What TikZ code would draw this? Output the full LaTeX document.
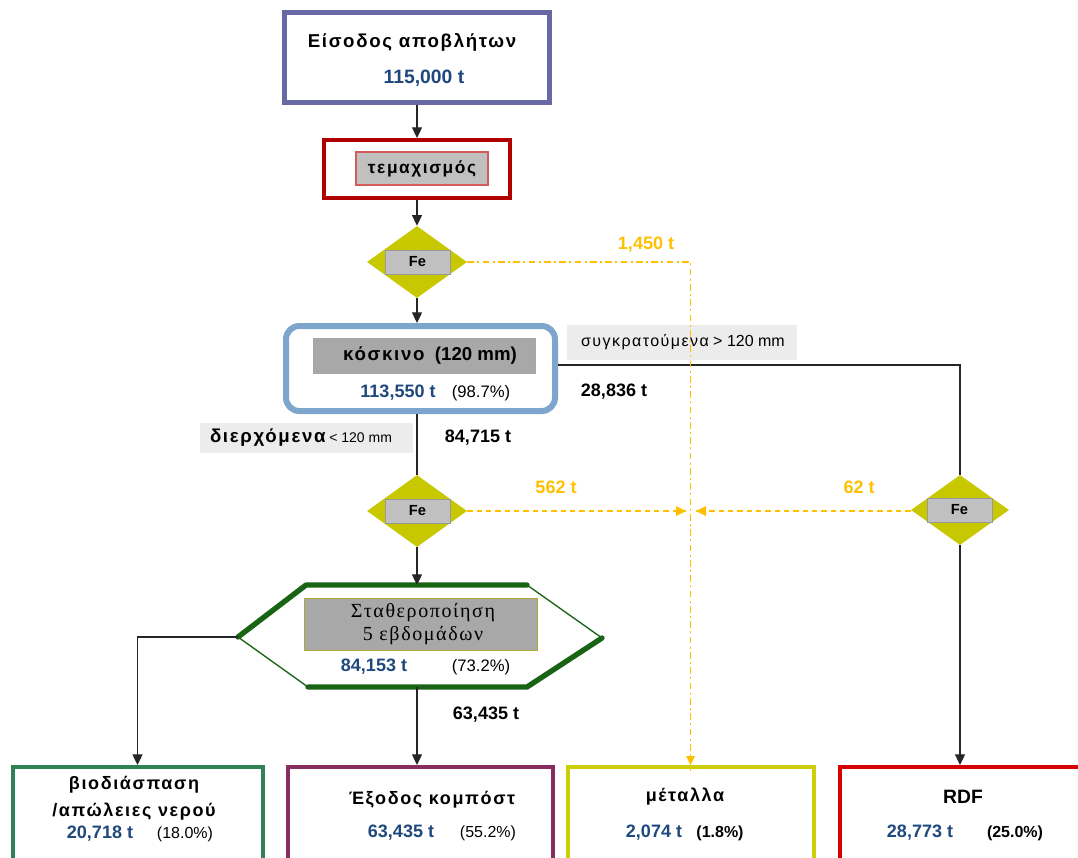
\documentclass[tikz,border=0pt]{standalone}
\usepackage{fontspec}
\setmainfont{Liberation Sans}
\newfontfamily\grsp[LetterSpace=9]{Liberation Sans}
\newfontfamily\grserif[LetterSpace=8]{Liberation Serif}
\usetikzlibrary{shapes.geometric,arrows.meta}
\definecolor{topblue}{RGB}{104,104,164}
\definecolor{darkred}{RGB}{176,0,0}
\definecolor{pinkred}{RGB}{215,90,90}
\definecolor{sieveblue}{RGB}{125,165,205}
\definecolor{olive}{RGB}{200,200,0}
\definecolor{btngray}{RGB}{192,192,192}
\definecolor{darkgray}{RGB}{168,168,168}
\definecolor{lblgray}{RGB}{236,236,236}
\definecolor{feyellow}{RGB}{255,192,0}
\definecolor{valblue}{RGB}{31,73,125}
\definecolor{hexgreen}{RGB}{25,100,20}
\definecolor{biogreen}{RGB}{46,130,85}
\definecolor{maroon}{RGB}{135,45,95}
\definecolor{metyellow}{RGB}{205,205,10}
\definecolor{rdfred}{RGB}{215,0,0}
\tikzset{
  x=0.75pt, y=-0.75pt,
  box/.style={draw, line width=3pt, minimum width={#1}, inner sep=0pt},
  flow/.style={draw=black!85, line width=0.9pt},
  arr/.style={flow, -{Triangle[length=8pt,width=7.5pt]}},
  fedash/.style={draw=feyellow, line width=1.3pt, dash pattern=on 4pt off 3pt},
  fedashdot/.style={draw=feyellow, line width=1.3pt, dash pattern=on 5pt off 2.5pt on 1.5pt off 2.5pt},
  dmd/.style={diamond, fill=olive, minimum width=75pt, minimum height=54pt, inner sep=0pt},
  febox/.style={fill=btngray, draw=gray!80, line width=0.6pt, minimum width=48.75pt, minimum height=18pt, inner sep=0pt, font=\fontsize{11}{13}\selectfont\bfseries},
  val/.style={text=valblue, font=\fontsize{13.5}{16}\selectfont\bfseries, inner sep=0pt},
  pct/.style={font=\fontsize{12}{14}\selectfont, inner sep=0pt},
  blk/.style={font=\fontsize{13.5}{16}\selectfont\bfseries, inner sep=0pt},
  ylab/.style={text=feyellow, font=\fontsize{13.5}{16}\selectfont\bfseries, inner sep=0pt},
}
\begin{document}
\begin{tikzpicture}
\clip (0,0) rectangle (1078,857);
\fill[white] (0,0) rectangle (1078,857);

% top box
\node[box=198.75pt, draw=topblue, line width=3.75pt, minimum height=67.5pt] (in) at (417,57.5) {};
\node[font=\fontsize{14}{16}\selectfont\bfseries\grsp] at (412,42) {Είσοδος αποβλήτων};
\node[val, font=\fontsize{14.5}{16}\selectfont\bfseries] at (424,78) {115,000 t};

% shredding
\node[box=139.5pt, draw=darkred, minimum height=43.5pt] (shred) at (417,169) {};
\node[fill=btngray, draw=pinkred, line width=0.8pt, minimum width=99pt, minimum height=24.75pt, inner sep=0pt,
      font=\fontsize{13}{15}\selectfont\bfseries\grsp] (shredlbl) at (422,168.5) {τεμαχισμός};

% Fe 1
\node[dmd] (d1) at (417,262) {};
\node[febox] at (417.5,262) {Fe};

% sieve
\node[draw=sieveblue, line width=4.5pt, rounded corners=10pt, minimum width=201.75pt, minimum height=63.75pt, inner sep=0pt] (sieve) at (420.5,368.5) {};
\node[fill=darkgray, draw=gray!70, line width=0.5pt, minimum width=166.5pt, minimum height=26.25pt, inner sep=0pt] (sievelbl) at (424,355.5) {};
\node[font=\fontsize{14}{16}\selectfont\bfseries, inner sep=0pt] at (430,355.5) {{\grsp κόσκινο}\ \ (120 mm)};
\node[val] at (398,393) {113,550 t};
\node[pct, font=\fontsize{12.5}{14}\selectfont] at (481,393) {(98.7\%)};

% retained label
\node[fill=lblgray, minimum width=172.5pt, minimum height=26.25pt, inner sep=0pt] (retlbl) at (682,342.5) {};
\node[font=\fontsize{12}{14}\selectfont, inner sep=0pt] at (683,342.5) {{\grsp συγκρατούμενα} > 120 mm};
\node[blk] at (614,392) {28,836 t};

% passing label
\node[fill=lblgray, minimum width=159.75pt, minimum height=22.5pt, inner sep=0pt] (paslbl) at (306.5,438) {};
\node[inner sep=0pt] at (301,438) {{\fontsize{14}{16}\selectfont\bfseries\grsp διερχόμενα}\ {\fontsize{10.5}{12}\selectfont < 120 mm}};
\node[blk] at (478,438) {84,715 t};

% Fe 2 and 3
\node[dmd] (d2) at (417,511) {};
\node[febox] at (417.5,511) {Fe};
\node[dmd, minimum width=73.5pt, minimum height=52.5pt] (d3) at (960,510) {};
\node[febox] at (959.5,510) {Fe};

% hexagon
\coordinate (hL) at (238,637);
\coordinate (hTL) at (306,585);
\coordinate (hTR) at (527,585);
\coordinate (hR) at (602,638);
\coordinate (hBR) at (527,687);
\coordinate (hBL) at (308,687);
\coordinate (hT) at (417,585);
\coordinate (hB) at (417,687);
\fill[white] (hL) -- (hTL) -- (hTR) -- (hR) -- (hBR) -- (hBL) -- cycle;
\draw[hexgreen, line width=4pt, line cap=round, line join=round] (hL) -- (hTL) -- (hTR);
\draw[hexgreen, line width=4pt, line cap=round, line join=round] (hR) -- (hBR) -- (hBL);
\draw[hexgreen, line width=1pt] (hTR) -- (hR);
\draw[hexgreen, line width=1pt] (hBL) -- (hL);
\node[fill=darkgray, draw=olive!60!gray, line width=0.6pt, minimum width=174.75pt, minimum height=39pt, inner sep=0pt] (stab) at (420.5,624) {};
\node[align=center, font=\fontsize{15}{17}\selectfont\grserif, inner sep=0pt] at (423,624) {Σταθεροποίηση\\5 εβδομάδων};
\node[val] at (374,667) {84,153 t};
\node[pct, font=\fontsize{12.5}{14}\selectfont] at (481,667) {(73.2\%)};
\node[blk] at (486,715) {63,435 t};

% bottom boxes
\node[box=187.5pt, draw=biogreen, minimum height=75pt, anchor=north] (bio) at (137.5,765) {};
\node[box=198.75pt, draw=maroon, minimum height=75pt, anchor=north] (comp) at (420.5,765) {};
\node[box=184.5pt, draw=metyellow, minimum height=75pt, anchor=north] (met) at (690.5,765) {};
\node[box=180pt, draw=rdfred, minimum height=75pt, anchor=north] (rdf) at (960,765) {};

\node[font=\fontsize{13.5}{16}\selectfont\bfseries\grsp, inner sep=0pt] at (134,785) {βιοδιάσπαση};
\node[font=\fontsize{13.5}{16}\selectfont\bfseries\grsp, inner sep=0pt] at (134,812) {/απώλειες νερού};
\node[val] at (100,834) {20,718 t};
\node[pct] at (185,834) {(18.0\%)};

\node[font=\fontsize{13.5}{16}\selectfont\bfseries\grsp, inner sep=0pt] at (432,800) {Έξοδος κομπόστ};
\node[val] at (401,833) {63,435 t};
\node[pct] at (488,833) {(55.2\%)};

\node[font=\fontsize{13.5}{16}\selectfont\bfseries\grsp, inner sep=0pt] at (685,797) {μέταλλα};
\node[val] at (654,833) {2,074 t};
\node[pct, font=\fontsize{12}{14}\selectfont\bfseries] at (720,833) {(1.8\%)};

\node[blk, font=\fontsize{14.5}{16}\selectfont\bfseries] at (963,797) {RDF};
\node[val] at (920,833) {28,773 t};
\node[pct, font=\fontsize{12}{14}\selectfont\bfseries] at (1015,833) {(25.0\%)};

% main flow
\draw[arr] (in.south) -- (shred.north);
\draw[arr] (shred.south) -- (d1.north);
\draw[arr] (d1.south) -- (d1.south |- sieve.north);
\draw[flow] (d2.north |- sieve.south) -- (d2.north);
\draw[arr] (d2.south) -- (hT);
\draw[arr] (hB) -- (hB |- comp.north);
\draw[arr] (hL) -- (bio.north |- hL) -- (bio.north);
\coordinate (rt) at (d3.north |- 0,365);
\draw[flow] (sieve.east |- rt) -- (rt) -- (d3.north);
\draw[arr] (d3.south) -- (rdf.north);

% Fe flows
\coordinate (fecorner) at (met.north |- d1.east);
\coordinate (fel) at (686,511);
\coordinate (fer) at (696,511);
\draw[fedashdot] (d1.east) -- (fecorner) -- ([yshift=-6pt]met.north);
\fill[feyellow] (met.north) -- ++(-4.5,-9) -- ++(9,0) -- cycle;
\draw[fedash] (d2.east) -- (fel);
\fill[feyellow] (fel) -- ++(-10,-5) -- ++(0,10) -- cycle;
\draw[fedash] (d3.west |- fer) -- (fer);
\fill[feyellow] (fer) -- ++(10,-5) -- ++(0,10) -- cycle;
\node[ylab] at (646,245) {1,450 t};
\node[ylab] at (556,487) {562 t};
\node[ylab] at (859,487) {62 t};
\end{tikzpicture}
\end{document}
